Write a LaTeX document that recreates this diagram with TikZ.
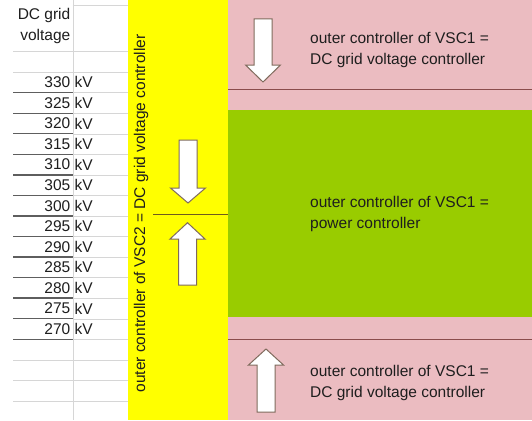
\documentclass[tikz,border=0pt]{standalone}
\usepackage{fontspec}
\setmainfont{Liberation Sans}
\definecolor{cellyellow}{HTML}{FFFF00}
\definecolor{cellgreen}{HTML}{99CC00}
\definecolor{cellpink}{HTML}{EBBCC1}
\definecolor{gridlight}{HTML}{D6D6D6}
\definecolor{griddark}{HTML}{5E5E5E}
\definecolor{arrowedge}{HTML}{7F6A5C}
\definecolor{bandline}{HTML}{8A4C4C}
\definecolor{splitline}{HTML}{6E5A1E}
\definecolor{celltext}{HTML}{1E1E1E}
\tikzset{
  blockarrow/.style={fill=white,draw=arrowedge,line width=1pt,line join=miter},
  celllabel/.style={inner sep=0pt,text=celltext},
}
\begin{document}
\begin{tikzpicture}[x=1pt,y=-1pt,font=\fontsize{15.5}{20.5}\selectfont]
    \useasboundingbox (0,0) rectangle (532,420);
    \fill[white] (0,0) rectangle (532,420);
    \fill[cellyellow] (127.5,0) rectangle (228,420);
    \fill[cellpink] (228,0) rectangle (532,110);
    \fill[cellgreen] (228,110) rectangle (532,317);
    \fill[cellpink] (228,317) rectangle (532,420);
    \draw[gridlight] (72.7,0) -- (72.7,420);
    \draw[gridlight] (72.7,5) -- (127.5,5);
    \foreach \y in {51.6,72.1,359.8,380.4,400.9}
      \draw[gridlight] (13,\y) -- (127.5,\y);
    \foreach \v [count=\i] in {330,325,320,315,310,305,300,295,290,285,280,275,270} {
      \node[celllabel,anchor=east] (num\v) at (70.5,{72.1+20.55*(\i-0.5)}) {\v};
      \node[celllabel,anchor=west] (unit\v) at (74.5,{72.1+20.55*(\i-0.5)}) {kV};
      \draw[griddark,line width=1.4pt] (13,{72.1+20.55*\i}) -- (72.7,{72.1+20.55*\i});
      \draw[gridlight] (72.7,{72.1+20.55*\i}) -- (127.5,{72.1+20.55*\i});
    }
    \node[celllabel,anchor=east] (hdrone) at (70.5,15) {DC grid};
    \node[celllabel,anchor=east] (hdrtwo) at (70.5,36.5) {voltage};
    \draw[bandline,line width=1pt] (228,89.3) -- (532,89.3);
    \draw[bandline,line width=1pt] (228,339.3) -- (532,339.3);
    \draw[splitline,line width=1pt] (153,214) -- (228,214);
    \foreach \cx/\yt/\yb/\yp in {263/19/65/82,188/140/188/203,187.5/285/239/222.7,266/412/365/349}
      \draw[blockarrow] (\cx-9,\yt) -- (\cx+9,\yt) -- (\cx+9,\yb) -- (\cx+17.5,\yb)
        -- (\cx,\yp) -- (\cx-17.5,\yb) -- (\cx-9,\yb) -- cycle;
    \node[celllabel,rotate=90] (vsctwo) at (141,213.5) {outer controller of VSC2 = DC grid voltage controller};
    \node[celllabel,anchor=west,align=left] (topctrl) at (310,50) {outer controller of VSC1 =\\DC grid voltage controller};
    \node[celllabel,anchor=west,align=left] (midctrl) at (310,214) {outer controller of VSC1 =\\power controller};
    \node[celllabel,anchor=west,align=left] (botctrl) at (310,383) {outer controller of VSC1 =\\DC grid voltage controller};
  \end{tikzpicture}
\end{document}
